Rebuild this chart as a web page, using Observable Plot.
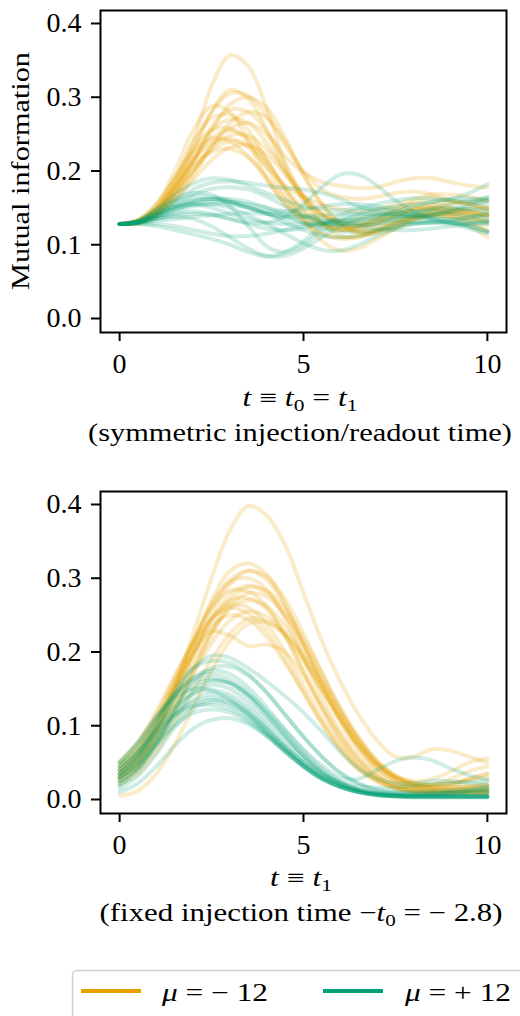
<!DOCTYPE html>
<html><head><meta charset="utf-8">
<script src="https://cdn.jsdelivr.net/npm/d3@7"></script>
<script src="https://cdn.jsdelivr.net/npm/@observablehq/plot@0.6"></script>
<style>
html,body{margin:0;padding:0;background:#fff;}
body{width:520px;height:1016px;overflow:hidden;position:relative;font-family:"Liberation Serif",serif;}
svg{display:block}
#legend{position:absolute;left:0;top:960px}
</style></head><body>
<div id="top"></div><div id="bot"></div><div id="legend"></div>
<script>
const tGrid = [0,0.5,1,1.5,2,2.5,3,3.5,4,4.5,5,5.5,6,6.5,7,7.5,8,8.5,9,9.5,10];

const topOrange = [
[.128,.132,.148,.185,.24,.315,.357,.342,.285,.21,.16,.13,.12,.125,.135,.145,.15,.148,.143,.138,.132],
[.128,.131,.145,.178,.225,.28,.31,.298,.255,.2,.16,.14,.132,.135,.142,.15,.155,.155,.15,.145,.14],
[.128,.131,.146,.18,.23,.28,.305,.302,.275,.235,.2,.175,.165,.162,.165,.17,.172,.168,.16,.155,.15],
[.128,.133,.155,.2,.255,.288,.28,.24,.19,.155,.135,.125,.12,.122,.13,.14,.148,.15,.145,.138,.128],
[.128,.13,.142,.17,.212,.26,.283,.28,.255,.21,.165,.13,.112,.11,.118,.13,.14,.145,.14,.13,.118],
[.128,.132,.15,.19,.24,.272,.276,.255,.215,.175,.145,.128,.12,.12,.125,.132,.138,.14,.138,.135,.132],
[.128,.131,.144,.175,.215,.255,.27,.265,.238,.2,.165,.14,.128,.125,.13,.138,.145,.148,.148,.145,.14],
[.128,.13,.14,.165,.2,.235,.258,.265,.25,.22,.198,.185,.18,.177,.178,.185,.19,.19,.185,.18,.178],
[.128,.133,.152,.19,.23,.255,.258,.24,.205,.165,.135,.115,.108,.11,.12,.13,.138,.14,.135,.125,.11],
[.128,.131,.146,.178,.215,.245,.255,.245,.215,.178,.148,.13,.122,.125,.135,.148,.158,.162,.16,.155,.148],
[.128,.13,.142,.168,.2,.232,.248,.248,.23,.2,.168,.142,.125,.118,.12,.128,.138,.148,.155,.158,.16],
[.128,.134,.155,.19,.225,.244,.24,.22,.188,.155,.13,.115,.11,.113,.12,.128,.135,.14,.142,.142,.14],
[.128,.131,.143,.17,.2,.228,.24,.235,.212,.175,.135,.105,.092,.095,.108,.122,.135,.142,.14,.132,.12],
[.128,.13,.14,.16,.188,.215,.232,.235,.222,.195,.165,.142,.13,.128,.13,.138,.148,.155,.158,.155,.15],
[.128,.132,.148,.178,.208,.226,.23,.218,.192,.162,.14,.128,.125,.128,.135,.142,.148,.15,.148,.145,.142],
[.128,.13,.142,.17,.21,.255,.29,.3,.285,.245,.195,.155,.13,.118,.118,.125,.135,.142,.145,.142,.138],
[.128,.129,.138,.16,.193,.232,.265,.28,.272,.24,.195,.155,.128,.115,.115,.122,.132,.14,.145,.148,.148],
[.128,.132,.148,.18,.215,.238,.244,.232,.205,.18,.165,.155,.148,.145,.148,.155,.162,.168,.168,.165,.16]
];

const topTeal = [
[.128,.132,.148,.168,.183,.19,.188,.18,.17,.16,.152,.148,.147,.15,.155,.16,.163,.163,.16,.158,.155],
[.128,.131,.143,.16,.175,.184,.186,.184,.18,.177,.175,.17,.162,.152,.145,.142,.145,.15,.155,.16,.163],
[.128,.133,.148,.162,.17,.168,.152,.125,.098,.09,.1,.118,.132,.14,.142,.14,.137,.135,.135,.137,.14],
[.128,.128,.125,.12,.114,.108,.1,.09,.084,.085,.095,.11,.125,.135,.14,.142,.14,.138,.135,.133,.132],
[.128,.13,.135,.14,.142,.14,.135,.13,.13,.138,.155,.178,.195,.195,.18,.16,.145,.135,.13,.13,.132],
[.128,.131,.14,.152,.16,.162,.158,.15,.142,.138,.138,.14,.142,.142,.14,.138,.138,.14,.145,.152,.16],
[.128,.13,.136,.142,.145,.142,.135,.128,.122,.12,.122,.128,.135,.142,.148,.152,.155,.158,.162,.17,.182],
[.128,.132,.145,.158,.165,.165,.16,.152,.142,.13,.12,.112,.11,.112,.118,.125,.13,.132,.13,.125,.118],
[.128,.13,.138,.148,.155,.158,.158,.155,.15,.145,.14,.135,.132,.133,.138,.145,.152,.158,.162,.163,.16],
[.128,.13,.135,.138,.135,.125,.11,.095,.085,.09,.105,.125,.14,.148,.148,.145,.14,.135,.13,.128,.128],
[.128,.129,.132,.135,.138,.14,.142,.143,.142,.14,.137,.133,.13,.128,.128,.13,.135,.14,.145,.148,.15],
[.128,.131,.142,.155,.168,.176,.178,.175,.165,.152,.14,.13,.125,.125,.128,.135,.142,.148,.15,.148,.145],
[.128,.128,.128,.125,.12,.115,.112,.112,.115,.12,.125,.128,.128,.125,.122,.12,.12,.122,.125,.128,.13],
[.128,.132,.143,.152,.155,.15,.142,.135,.13,.128,.128,.13,.133,.135,.135,.133,.13,.13,.132,.137,.143],
[.128,.13,.14,.15,.158,.162,.162,.158,.15,.14,.13,.122,.118,.118,.12,.125,.128,.13,.13,.125,.118],
[.128,.13,.138,.148,.155,.155,.15,.14,.128,.115,.102,.093,.092,.1,.112,.122,.128,.13,.128,.122,.115],
[.128,.131,.141,.152,.16,.162,.158,.15,.145,.145,.148,.152,.155,.155,.152,.148,.145,.145,.148,.155,.165],
[.128,.13,.137,.145,.152,.155,.155,.15,.143,.135,.13,.128,.128,.13,.133,.137,.14,.142,.142,.14,.136]
];

const botOrange = [
[.03,.05,.09,.15,.225,.3,.365,.398,.385,.345,.28,.215,.16,.115,.08,.058,.058,.068,.066,.058,.05],
[.035,.055,.095,.15,.21,.27,.31,.32,.305,.265,.21,.155,.105,.065,.038,.022,.015,.013,.013,.014,.015],
[.04,.06,.1,.155,.21,.262,.298,.31,.298,.262,.212,.16,.112,.072,.043,.025,.016,.013,.012,.012,.012],
[.045,.068,.108,.16,.215,.265,.295,.3,.285,.245,.192,.138,.092,.056,.032,.018,.012,.01,.01,.01,.01],
[.03,.05,.088,.138,.192,.242,.278,.29,.28,.25,.205,.158,.113,.075,.047,.03,.022,.02,.022,.028,.035],
[.05,.075,.115,.165,.215,.26,.283,.282,.262,.222,.172,.122,.08,.048,.028,.016,.01,.008,.008,.008,.008],
[.025,.042,.075,.12,.172,.222,.262,.28,.275,.25,.21,.165,.12,.08,.05,.03,.02,.016,.016,.018,.02],
[.04,.062,.1,.148,.198,.245,.27,.273,.258,.222,.175,.128,.088,.055,.032,.018,.012,.01,.01,.01,.01],
[.035,.055,.09,.135,.182,.228,.258,.27,.262,.235,.195,.15,.108,.07,.042,.025,.018,.02,.028,.038,.045],
[.045,.07,.11,.158,.205,.245,.264,.26,.238,.2,.155,.11,.072,.044,.026,.016,.012,.011,.012,.014,.016],
[.03,.048,.082,.125,.17,.212,.243,.255,.248,.225,.19,.15,.11,.075,.048,.03,.02,.017,.017,.018,.02],
[.04,.065,.105,.152,.198,.235,.25,.244,.22,.185,.145,.105,.07,.042,.025,.015,.01,.009,.009,.009,.01],
[.035,.06,.1,.15,.198,.228,.222,.208,.21,.2,.168,.125,.082,.05,.03,.02,.016,.016,.02,.028,.035],
[.02,.035,.065,.105,.148,.19,.225,.245,.242,.222,.188,.148,.108,.073,.047,.03,.022,.02,.022,.026,.03],
[.052,.078,.12,.168,.212,.245,.26,.252,.228,.19,.145,.102,.066,.04,.024,.015,.01,.009,.009,.009,.009],
[.005,.012,.035,.075,.125,.175,.215,.238,.24,.225,.195,.158,.118,.082,.053,.033,.022,.018,.017,.017,.018],
[.025,.042,.075,.12,.175,.228,.27,.288,.283,.258,.218,.172,.125,.085,.052,.032,.025,.028,.038,.05,.056],
[.03,.05,.088,.14,.198,.252,.292,.31,.302,.272,.225,.172,.122,.08,.048,.028,.018,.014,.013,.013,.013]
];

const botTeal = [
[.03,.055,.095,.14,.178,.195,.192,.178,.16,.14,.118,.092,.065,.042,.028,.022,.022,.025,.025,.022,.02],
[.04,.065,.105,.148,.178,.188,.185,.17,.145,.115,.085,.058,.036,.022,.014,.01,.009,.009,.01,.011,.012],
[.035,.06,.1,.14,.166,.175,.17,.152,.125,.095,.066,.042,.025,.014,.008,.005,.004,.004,.004,.004,.004],
[.045,.07,.108,.143,.164,.17,.163,.145,.118,.088,.06,.038,.022,.013,.009,.008,.008,.009,.01,.012,.014],
[.05,.077,.112,.142,.16,.165,.158,.14,.113,.085,.058,.036,.021,.012,.007,.005,.004,.004,.004,.004,.004],
[.03,.05,.085,.12,.148,.16,.158,.143,.12,.094,.068,.046,.03,.028,.04,.052,.057,.053,.042,.033,.027],
[.02,.04,.075,.115,.143,.155,.15,.132,.107,.08,.055,.035,.021,.012,.008,.006,.006,.007,.008,.009,.01],
[.04,.062,.095,.125,.143,.148,.142,.125,.1,.074,.05,.031,.018,.01,.006,.004,.003,.003,.003,.003,.003],
[.025,.045,.078,.112,.135,.143,.137,.12,.097,.072,.05,.032,.02,.013,.01,.01,.011,.012,.013,.015,.017],
[.035,.055,.085,.115,.132,.138,.133,.118,.095,.07,.047,.029,.017,.01,.006,.004,.004,.004,.004,.004,.004],
[.015,.032,.062,.098,.123,.132,.127,.112,.09,.067,.045,.028,.017,.01,.006,.005,.005,.006,.007,.008,.008],
[.045,.065,.092,.115,.127,.128,.122,.108,.088,.065,.045,.028,.017,.01,.006,.004,.003,.003,.003,.003,.003],
[.03,.048,.075,.1,.117,.122,.118,.105,.086,.064,.044,.028,.017,.01,.006,.005,.004,.004,.004,.004,.004],
[.01,.022,.045,.073,.096,.108,.11,.102,.086,.066,.046,.03,.018,.011,.007,.005,.004,.004,.004,.004,.004],
[.025,.045,.08,.122,.16,.178,.18,.168,.145,.115,.085,.058,.036,.021,.012,.008,.006,.005,.005,.005,.005],
[.05,.078,.112,.138,.15,.148,.135,.115,.09,.066,.045,.028,.017,.01,.006,.005,.004,.004,.004,.004,.004],
[.035,.058,.095,.13,.154,.162,.157,.14,.115,.087,.06,.038,.023,.013,.008,.006,.006,.007,.009,.012,.015],
[.02,.04,.072,.105,.127,.135,.13,.115,.093,.07,.05,.034,.024,.018,.016,.016,.018,.02,.022,.024,.025]
];

const xTicks = [0, 5, 10];
const yTicks = [0, 0.1, 0.2, 0.3, 0.4];
const groupLabels = ["−12", "+12"];
const colors = ["#E69F00", "#009E73"];

const FONT = "'Liberation Serif', 'Times New Roman', serif";

function toRows(lines, key) {
  const rows = [];
  lines.forEach((vals, i) => vals.forEach((v, j) => rows.push({t: tGrid[j], v, id: key + i})));
  return rows;
}

function panel(orange, teal, mt) {
  return Plot.plot({
    width: 520, height: 480,
    marginTop: mt, marginBottom: 480 - mt - 322, marginLeft: 100, marginRight: 14,
    style: {fontFamily: FONT, fontSize: "26px", background: "white", color: "black", overflow: "visible"},
    x: {domain: [-0.52, 10.52]},
    y: {domain: [-0.019, 0.4176]},
    marks: [
      Plot.line(toRows(orange, "o"), {x: "t", y: "v", z: "id", stroke: colors[0], strokeWidth: 4, strokeOpacity: 0.21, curve: "catmull-rom"}),
      Plot.line(toRows(teal, "g"), {x: "t", y: "v", z: "id", stroke: colors[1], strokeWidth: 4, strokeOpacity: 0.19, curve: "catmull-rom"}),
      Plot.frame({stroke: "black", strokeWidth: 2}),
      Plot.axisX({ticks: xTicks, tickSize: 9, tickPadding: 12, strokeWidth: 2, label: null, fontSize: 28, tickFormat: d => String(d)}),
      Plot.axisY({ticks: yTicks, tickSize: 9, tickPadding: 10, strokeWidth: 2, label: null, fontSize: 28, tickFormat: d => d.toFixed(1)})
    ]
  });
}

function mathText(svg, x, y, parts, length) {
  const t = d3.select(svg).append("text")
    .attr("x", x).attr("y", y).attr("text-anchor", "middle")
    .attr("font-family", FONT).attr("font-size", 25).attr("fill", "black");
  if (length) t.attr("textLength", length).attr("lengthAdjust", "spacingAndGlyphs");
  parts.forEach(p => {
    const s = t.append("tspan").text(p.s);
    if (p.i) s.attr("font-style", "italic");
    if (p.sub) s.attr("font-size", 17).attr("dy", 5);
    if (p.up) s.attr("dy", -5);
  });
  return t;
}

const p1 = panel(topOrange, topTeal, 10);
const p2 = panel(botOrange, botTeal, 11);
document.getElementById("top").append(p1);
document.getElementById("bot").append(p2);

// Top panel labels
mathText(p1, 300, 406, [{s:"t",i:1},{s:" ≡ "},{s:"t",i:1},{s:"0",sub:1},{s:" = ",up:1},{s:"t",i:1},{s:"1",sub:1}], 115);
mathText(p1, 300, 441, [{s:"(symmetric injection/readout time)"}], 424);
d3.select(p1).append("text")
  .attr("transform", "translate(29,171) rotate(-90)")
  .attr("text-anchor", "middle").attr("font-family", FONT).attr("font-size", 25)
  .attr("textLength", 238).attr("lengthAdjust", "spacingAndGlyphs")
  .text("Mutual information");

// Bottom panel labels
mathText(p2, 301, 406, [{s:"t",i:1},{s:" ≡ "},{s:"t",i:1},{s:"1",sub:1}], 62);
mathText(p2, 301, 441, [{s:"(fixed injection time −"},{s:"t",i:1},{s:"0",sub:1},{s:" = − 2.8)",up:1}], 403);

// Legend
const lg = d3.select("#legend").append("svg").attr("width", 520).attr("height", 56);
lg.append("rect").attr("x", 72.5).attr("y", 10.5).attr("width", 470).attr("height", 70)
  .attr("rx", 4).attr("fill", "white").attr("stroke", "#d0d0d0").attr("stroke-width", 1.5);
const legX = [[81, 162], [323, 405]];
groupLabels.forEach((g, i) => {
  lg.append("line").attr("x1", legX[i][0]).attr("x2", legX[i][0] + 60).attr("y1", 31).attr("y2", 31)
    .attr("stroke", colors[i]).attr("stroke-width", 4);
  const t = lg.append("text").attr("x", legX[i][1]).attr("y", 41)
    .attr("font-family", FONT).attr("font-size", 25).attr("fill", "black")
    .attr("textLength", 106).attr("lengthAdjust", "spacingAndGlyphs");
  t.append("tspan").attr("font-style", "italic").text("μ");
  t.append("tspan").text(" = " + g.replace(/^([−+])/, "$1 "));
});
</script>
</body></html>
